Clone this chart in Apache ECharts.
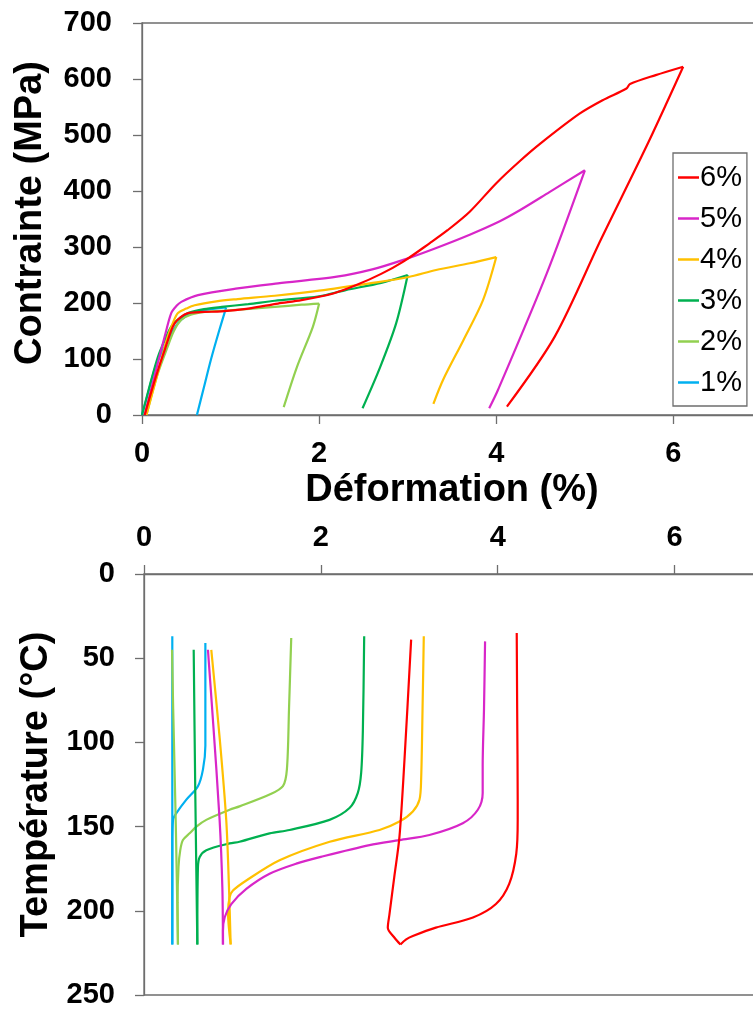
<!DOCTYPE html>
<html><head><meta charset="utf-8">
<script src="https://cdn.jsdelivr.net/npm/echarts@6/dist/echarts.min.js"></script>
<style>html,body{margin:0;padding:0;background:#fff}#c{width:753px;height:1010px}</style>
</head><body><div id="c"></div>
<script>
// Series names and colours
const seriesNames = ['6%', '5%', '4%', '3%', '2%', '1%'];
const seriesColors = ['#ff0000', '#d826c8', '#ffc000', '#00b050', '#92d050', '#00b0f0'];

// Top chart: [Déformation (%), Contrainte (MPa)] — loading branches
const load6 = [[0.03,0],[0.15,65],[0.256,116],[0.37,164],[0.52,182],[0.7,184],[0.895,185],[1.2,190],[1.535,199],[1.8,205],[2.16,217],[2.42,232],[2.7,252],[2.95,274],[3.25,307],[3.45,330],[3.7,363],[4.0,414],[4.27,454],[4.5,485],[4.94,538],[5.2,562],[5.47,583],[5.51,591],[5.8,607],[6.11,622]];
const load5 = [[0.03,0],[0.15,75],[0.256,140],[0.33,182],[0.39,195],[0.444,202],[0.632,214],[1.08,226],[1.535,235],[2.2,247],[2.6,260],[2.95,277],[3.3,297],[3.7,322],[4.04,346],[4.27,366],[4.6,398],[5.0,437]];
const load4 = [[0.05,0],[0.17,70],[0.29,140],[0.35,165],[0.406,182],[0.5,190],[0.594,196],[0.84,203],[1.08,207],[1.5,213],[2.0,222],[2.57,235],[3.0,246],[3.32,259],[3.7,271],[4.0,282]];
const load3 = [[0,0],[0.1,60],[0.18,104],[0.26,135],[0.33,158],[0.42,172],[0.52,182],[0.7,189],[0.9,193],[1.2,198],[1.5,204],[2.0,212],[2.3,223],[2.7,236],[3.0,250]];
const load2 = [[0.05,0],[0.17,70],[0.29,122],[0.36,150],[0.444,170],[0.55,179],[0.71,184],[0.99,187],[1.5,193],[1.8,197],[2.0,199]];
const load1 = [[0,0],[0.07,40],[0.14,80],[0.2,105],[0.256,122],[0.33,145],[0.406,164],[0.48,175],[0.557,181],[0.7,187],[0.95,192]];
// Top chart — unloading branches
const unload6 = [[6.11,622],[5.72,488],[5.18,313],[4.66,140],[4.12,15]];
const unload5 = [[5.0,437],[4.57,253],[4.02,45],[3.92,12]];
const unload4 = [[4.0,282],[3.85,205],[3.63,134],[3.4,63],[3.29,20]];
const unload3 = [[3.0,250],[2.87,164],[2.69,86],[2.49,12]];
const unload2 = [[2.0,199],[1.93,158],[1.75,86],[1.6,14]];
const unload1 = [[0.95,192],[0.87,150],[0.78,100],[0.7,50],[0.62,0]];

// Bottom chart: [Déformation (%), Température (°C)] — heating branches
const heat6 = [[4.215,35],[4.22,80],[4.226,134],[4.226,146],[4.21,166],[4.13,184],[3.98,196],[3.72,204],[3.3,210],[3.04,215],[2.965,217],[2.9,220]];
const heat5 = [[3.857,40],[3.845,80],[3.83,114],[3.83,130],[3.775,140],[3.605,148],[3.228,155],[2.889,158],[2.55,161],[2.0,168],[1.722,172],[1.42,178],[1.157,187],[0.987,196],[0.912,204],[0.893,212],[0.893,220]];
const heat4 = [[3.164,37],[3.15,80],[3.134,122],[3.115,134],[3.04,141],[2.889,147],[2.663,152],[2.1,159],[1.533,170],[1.157,182],[1.006,188],[0.968,192],[0.95,201],[0.98,220]];
const heat3 = [[2.49,37],[2.475,93],[2.456,118],[2.418,130],[2.324,139],[2.098,146],[1.646,152],[1.42,154],[1.08,159],[0.968,160],[0.705,164],[0.63,168],[0.61,174],[0.603,220]];
const heat2 = [[1.665,38],[1.64,80],[1.616,116],[1.571,126],[1.42,131],[1.08,138],[0.968,140],[0.704,146],[0.592,150],[0.516,154],[0.44,158],[0.41,164],[0.39,174],[0.38,195],[0.384,220]];
const heat1 = [[0.694,41],[0.694,102],[0.667,116],[0.61,126],[0.479,134],[0.366,142],[0.328,146],[0.32,160],[0.32,220]];
// Bottom chart — cooling branches
const cool6 = [[2.9,220],[2.833,216],[2.757,210],[2.776,202],[2.83,180],[2.889,156],[2.946,110],[3.021,39]];
const cool5 = [[0.893,220],[0.886,186],[0.855,146],[0.78,87],[0.723,45]];
const cool4 = [[0.98,220],[0.961,186],[0.93,146],[0.855,97],[0.761,45]];
const cool3 = [[0.603,220],[0.58,130],[0.562,45]];
const cool2 = [[0.384,220],[0.36,150],[0.33,80],[0.317,45]];
const cool1 = [[0.32,220],[0.32,37]];

const strainTickLabels = [0, 2, 4, 6];

const loadData = [load6, load5, load4, load3, load2, load1];
const unloadData = [unload6, unload5, unload4, unload3, unload2, unload1];
const heatData = [heat6, heat5, heat4, heat3, heat2, heat1];
const coolData = [cool6, cool5, cool4, cool3, cool2, cool1];

const FONT = 'Liberation Sans, Arial, sans-serif';
const AXC = '#6e6e6e';
const lbl = {fontFamily: FONT, fontWeight: 'bold', fontSize: 29, color: '#000'};
const nameSt = {fontFamily: FONT, fontWeight: 'bold', fontSize: 38, color: '#000'};
const xfmt = v => strainTickLabels.includes(v) ? String(v) : '';

const series = [];
function addLine(name, color, data, gi, z) {
  series.push({type: 'line', name: name, xAxisIndex: gi, yAxisIndex: gi, data: data,
    showSymbol: false, symbol: 'none', smooth: 0.3, color: color,
    lineStyle: {width: 2.2, color: color}, z: z});
}
seriesNames.forEach((n, i) => {
  const c = seriesColors[i];
  addLine(n, c, loadData[i], 0, 10 - i);
  addLine(n, c, unloadData[i], 0, 10 - i);
  addLine(n, c, heatData[i], 1, 10 - i);
  addLine(n, c, coolData[i], 1, 10 - i);
});

const chart = echarts.init(document.getElementById('c'), null, {renderer: 'canvas'});
chart.setOption({
  animation: false,
  backgroundColor: '#fff',
  grid: [
    {left: 142, top: 23, width: 620, height: 392, show: true, borderColor: AXC, borderWidth: 1.3, containLabel: false, outerBoundsMode: 'none'},
    {left: 144, top: 574, width: 619, height: 421, show: true, borderColor: AXC, borderWidth: 1.3, containLabel: false, outerBoundsMode: 'none'}
  ],
  xAxis: [
    {type: 'value', gridIndex: 0, min: 0, max: 7, interval: 2,
     axisLine: {show: true, lineStyle: {color: AXC, width: 1.3}},
     axisTick: {show: true, length: 9, lineStyle: {color: AXC, width: 1.3}},
     axisLabel: Object.assign({margin: 24, formatter: xfmt}, lbl),
     splitLine: {show: false},
     name: 'Déformation (%)', nameLocation: 'middle', nameGap: 57, nameTextStyle: nameSt},
    {type: 'value', gridIndex: 1, position: 'top', min: 0, max: 7, interval: 2,
     axisLine: {show: true, lineStyle: {color: AXC, width: 1.3}},
     axisTick: {show: true, length: 9, lineStyle: {color: AXC, width: 1.3}},
     axisLabel: Object.assign({margin: 22, formatter: xfmt}, lbl),
     splitLine: {show: false}}
  ],
  yAxis: [
    {type: 'value', gridIndex: 0, min: 0, max: 700, interval: 100,
     axisLine: {show: true, lineStyle: {color: AXC, width: 1.3}},
     axisTick: {show: true, length: 9, lineStyle: {color: AXC, width: 1.3}},
     axisLabel: Object.assign({margin: 30}, lbl),
     splitLine: {show: false},
     name: 'Contrainte (MPa)', nameLocation: 'middle', nameGap: 92,
     nameTextStyle: Object.assign({padding: [0, 0, 0, 12]}, nameSt)},
    {type: 'value', gridIndex: 1, inverse: true, min: 0, max: 250, interval: 50,
     axisLine: {show: true, lineStyle: {color: AXC, width: 1.3}},
     axisTick: {show: true, length: 9, lineStyle: {color: AXC, width: 1.3}},
     axisLabel: Object.assign({margin: 29}, lbl),
     splitLine: {show: false},
     name: 'Température (°C)', nameLocation: 'middle', nameGap: 80, nameTextStyle: nameSt}
  ],
  legend: {
    show: true, orient: 'vertical', left: 673, top: 153,
    data: seriesNames, icon: 'rect', itemWidth: 21, itemHeight: 2.5, itemGap: 12,
    padding: [10, 5, 9, 5],
    borderColor: AXC, borderWidth: 1.3, backgroundColor: '#fff',
    textStyle: {fontFamily: FONT, fontSize: 29, color: '#000', padding: [0, 0, 0, -4]},
    selectedMode: false
  },
  series: series
});
</script>
</body></html>
